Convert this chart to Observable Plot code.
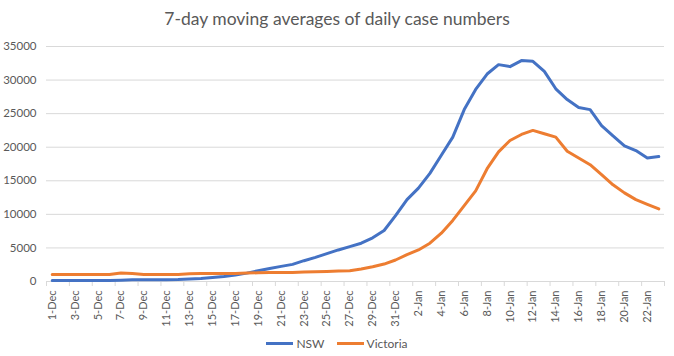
<!DOCTYPE html>
<html><head><meta charset="utf-8">
<script src="https://cdn.jsdelivr.net/npm/d3@7"></script>
<script src="https://cdn.jsdelivr.net/npm/@observablehq/plot@0.6"></script>
<style>
body{margin:0;background:#fff;font-family:Lato,"Open Sans",sans-serif;color:#595959;}
#wrap{width:674px;height:356px;position:relative;overflow:hidden;background:#fff;}
#title{position:absolute;left:0;top:9px;width:674px;text-align:center;font-size:17.5px;line-height:20px;color:#595959;}
#chart{position:absolute;top:40px;left:0;}
#legend{position:absolute;top:334px;left:0;width:674px;height:18px;display:flex;justify-content:center;align-items:center;font-size:12px;color:#595959;}
.item{display:flex;align-items:center;margin:0 6px;}
.sw{width:27px;height:3px;margin-right:3px;}
</style>
</head><body>
<div id="wrap">
  <div id="title">7-day moving averages of daily case numbers</div>
  <div id="chart"></div>
  <div id="legend"></div>
</div>
<script>
const dates = ["1-Dec","2-Dec","3-Dec","4-Dec","5-Dec","6-Dec","7-Dec","8-Dec","9-Dec","10-Dec",
  "11-Dec","12-Dec","13-Dec","14-Dec","15-Dec","16-Dec","17-Dec","18-Dec","19-Dec","20-Dec",
  "21-Dec","22-Dec","23-Dec","24-Dec","25-Dec","26-Dec","27-Dec","28-Dec","29-Dec","30-Dec","31-Dec",
  "1-Jan","2-Jan","3-Jan","4-Jan","5-Jan","6-Jan","7-Jan","8-Jan","9-Jan","10-Jan",
  "11-Jan","12-Jan","13-Jan","14-Jan","15-Jan","16-Jan","17-Jan","18-Jan","19-Jan","20-Jan",
  "21-Jan","22-Jan","23-Jan"];
const nsw = [150,150,150,150,150,160,200,250,250,260,
  270,300,380,450,600,750,950,1250,1600,1950,
  2250,2550,3100,3600,4150,4700,5200,5700,6500,7600,9800,
  12200,13900,16100,18800,21500,25600,28600,30900,32300,32000,
  32900,32800,31300,28700,27100,25900,25600,23200,21700,20200,
  19500,18400,18600];
const victoria = [1050,1050,1050,1050,1050,1050,1250,1200,1050,1050,
  1050,1050,1150,1200,1200,1200,1200,1250,1300,1350,
  1350,1350,1400,1450,1500,1550,1600,1850,2200,2600,3200,
  4000,4700,5700,7200,9100,11300,13500,16800,19300,21000,
  21900,22500,22000,21500,19400,18400,17400,15900,14400,13200,
  12200,11500,10800];
const seriesNames = ["NSW","Victoria"];
const seriesColors = ["#4472c4","#ed7d31"];
const yTicks = [0,5000,10000,15000,20000,25000,30000,35000];

const seriesValues = [nsw, victoria];
const rows = [];
seriesNames.forEach((s, k) => dates.forEach((d, i) => rows.push({i, date: d, series: s, value: seriesValues[k][i]})));
const labelIdx = dates.map((d, i) => i).filter(i => i % 2 === 0);
const boundaries = d3.range(0, dates.length + 1, 2).map(b => b - 0.5);

const chart = Plot.plot({
  width: 674, height: 292,
  marginLeft: 46, marginRight: 10, marginTop: 6, marginBottom: 51,
  style: {fontFamily: "Lato, 'Open Sans', sans-serif", fontSize: "11.5px", color: "#595959", background: "transparent", overflow: "visible"},
  x: {type: "linear", domain: [-0.5, dates.length - 0.5]},
  y: {domain: [0, 35000]},
  color: {domain: seriesNames, range: seriesColors},
  marks: [
    Plot.gridY(yTicks, {stroke: "#d9d9d9", strokeOpacity: 1}),
    Plot.axisY(yTicks, {tickSize: 0, tickPadding: 10, tickFormat: d => String(d), label: null, fill: "#595959"}),
    Plot.ruleY([0], {stroke: "#d9d9d9"}),
    Plot.axisX(boundaries, {tickSize: 5, tickFormat: () => "", stroke: "#d9d9d9", label: null}),
    Plot.axisX(labelIdx, {tickSize: 0, tickPadding: 9, tickRotate: -90, fontSize: 11, tickFormat: i => dates[i], label: null, fill: "#595959"}),
    Plot.line(rows, {x: "i", y: "value", z: "series", stroke: "series", strokeWidth: 3})
  ]
});
document.getElementById("chart").appendChild(chart);

const legend = document.getElementById("legend");
seriesNames.forEach((s, k) => {
  const it = document.createElement("div"); it.className = "item";
  const sw = document.createElement("div"); sw.className = "sw"; sw.style.background = seriesColors[k];
  const tx = document.createElement("span"); tx.textContent = s;
  it.appendChild(sw); it.appendChild(tx); legend.appendChild(it);
});
</script>
</body></html>
